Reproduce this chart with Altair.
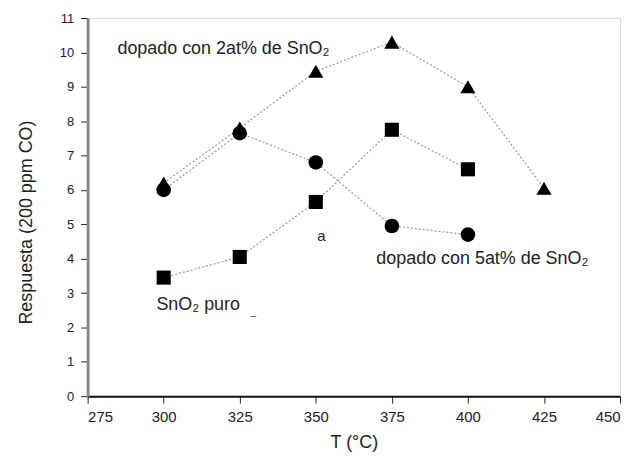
import altair as alt
import pandas as pd

temps_2at = [300, 325, 350, 375, 400, 425]
resp_2at = [6.2, 7.8, 9.45, 10.3, 9.0, 6.05]
temps_5at = [300, 325, 350, 375, 400]
resp_5at = [6.0, 7.65, 6.8, 4.95, 4.7]
temps_puro = [300, 325, 350, 375, 400]
resp_puro = [3.45, 4.05, 5.65, 7.75, 6.6]

series_names = ["2at", "5at", "puro"]
series_shapes = ["triangle-up", "circle", "square"]
series_sizes = [230, 200, 150]

label_texts = ["dopado con 2at% de SnO₂", "dopado con 5at% de SnO₂", "SnO₂ puro", "a", "_"]
label_x = [284.8, 369.9, 297.6, 350.5, 328.5]
label_y = [10.1, 3.99, 2.66, 4.66, 2.45]
label_sizes = [18, 18, 18, 15, 10]

x_ticks = [275, 300, 325, 350, 375, 400, 425, 450]
y_ticks = list(range(0, 12))

rows = []
for name, ts, vs in [("2at", temps_2at, resp_2at), ("5at", temps_5at, resp_5at), ("puro", temps_puro, resp_puro)]:
    for t, v in zip(ts, vs):
        rows.append({"serie": name, "T": t, "R": v})
df = pd.DataFrame(rows)

labels = pd.DataFrame({"text": label_texts, "x": label_x, "y": label_y, "fs": label_sizes})

xscale = alt.Scale(domain=[275, 450], nice=False, zero=False)
yscale = alt.Scale(domain=[0, 11], nice=False)

x_axis = alt.Axis(title="T  (°C)", values=x_ticks, grid=False, tickSize=7,
                  labelFontSize=15, labelPadding=6, titleFontSize=18,
                  titleFontWeight="normal", titlePadding=10,
                  labelOverlap=False,
                  domainColor="#111", domainWidth=2, tickColor="#222",
                  labelColor="#222", titleColor="#222")
y_axis = alt.Axis(title="Respuesta  (200 ppm CO)", values=y_ticks, grid=False,
                  tickSize=7, labelFontSize=13, labelPadding=7,
                  labelOverlap=False,
                  titleFontSize=18, titleFontWeight="normal", titlePadding=24,
                  titleY=205,
                  domainColor="#888", domainWidth=3, tickColor="#222",
                  labelColor="#222", titleColor="#222")

lines = alt.Chart(df).mark_line(color="#999", strokeDash=[2, 2], strokeWidth=1.2).encode(
    x=alt.X("T:Q", scale=xscale, axis=x_axis),
    y=alt.Y("R:Q", scale=yscale, axis=y_axis),
    detail="serie:N", order="T:Q"
)

points = alt.Chart(df).mark_point(filled=True, color="#000", opacity=1).encode(
    x=alt.X("T:Q", scale=xscale, axis=x_axis),
    y=alt.Y("R:Q", scale=yscale, axis=y_axis),
    shape=alt.Shape("serie:N", scale=alt.Scale(domain=series_names, range=series_shapes), legend=None),
    size=alt.Size("serie:N", scale=alt.Scale(domain=series_names, range=series_sizes), legend=None),
)

texts = alt.Chart(labels).mark_text(align="left", baseline="middle", color="#222",
                                    font="Liberation Sans").encode(
    x=alt.X("x:Q", scale=xscale, axis=x_axis),
    y=alt.Y("y:Q", scale=yscale, axis=y_axis),
    text="text:N",
    size=alt.Size("fs:Q", scale=None, legend=None),
)

chart = alt.layer(lines, points, texts).properties(
    width=535, height=380,
    autosize=alt.AutoSizeParams(type="none"),
    padding={"left": 80, "top": 9, "right": 12, "bottom": 59},
).configure_view(stroke="#777", strokeWidth=2).configure(
    font="Liberation Sans"
).configure_axis(labelFont="Liberation Sans", titleFont="Liberation Sans")

chart.save("out.html", embed_options={"renderer": "svg", "actions": False})
